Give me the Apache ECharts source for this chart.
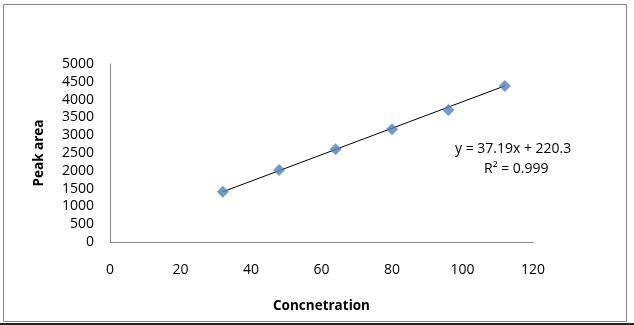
<!DOCTYPE html>
<html><head><meta charset="utf-8">
<script src="https://cdn.jsdelivr.net/npm/echarts@6/dist/echarts.min.js"></script>
<style>html,body{margin:0;padding:0;background:#fff}#c{width:634px;height:325px}</style>
</head><body><div id="c"></div>
<script>
var concentration = [32, 48, 64, 80, 96, 112];
var peakArea = [1415, 2020, 2605, 3170, 3710, 4385];
var trendX = [32, 112];
var trendY = [1410, 4385];
var equationText = 'y = 37.19x + 220.3';
var r2Text = 'R² = 0.999';

var chart = echarts.init(document.getElementById('c'));
var F = '"Open Sans", Lato, sans-serif';
chart.setOption({
  animation: false,
  grid: { left: 110, right: 101, top: 64, bottom: 83 },
  xAxis: {
    type: 'value', min: 0, max: 120, interval: 20,
    name: 'Concnetration', nameLocation: 'middle', nameGap: 57,
    nameTextStyle: { fontFamily: F, fontSize: 13.5, fontWeight: 'bold', color: '#000' },
    axisLine: { show: true, lineStyle: { color: '#868686', width: 1 } },
    axisTick: { show: false },
    splitLine: { show: false },
    axisLabel: { fontFamily: F, fontSize: 14, color: '#000', margin: 21 }
  },
  yAxis: {
    type: 'value', min: 0, max: 5000, interval: 500,
    name: 'Peak area', nameLocation: 'middle', nameGap: 64,
    nameTextStyle: { fontFamily: F, fontSize: 13.5, fontWeight: 'bold', color: '#000' },
    axisLine: { show: true, lineStyle: { color: '#868686', width: 1 } },
    axisTick: { show: false },
    splitLine: { show: false },
    axisLabel: { fontFamily: F, fontSize: 14, color: '#000', margin: 16,
      formatter: function (v) { return String(v); } }
  },
  series: [
    {
      type: 'line', data: trendX.map(function (x, i) { return [x, trendY[i]]; }),
      symbol: 'none', lineStyle: { color: '#000', width: 1 }, z: 2
    },
    {
      type: 'scatter', data: concentration.map(function (x, i) { return [x, peakArea[i]]; }),
      symbol: 'diamond', symbolSize: 12, itemStyle: { color: '#4F81BD' }, z: 3
    }
  ],
  graphic: [
    { type: 'rect', shape: { x: 3.5, y: 4.5, width: 623, height: 317 },
      style: { fill: 'none', stroke: '#868686', lineWidth: 1 }, z: -1 },
    { type: 'rect', shape: { x: 0, y: 323, width: 634, height: 2 },
      style: { fill: '#222' } },
    { type: 'text', left: 455, top: 142,
      style: { text: equationText, font: '14px ' + F, fill: '#000' } },
    { type: 'text', left: 484, top: 162,
      style: { text: r2Text, font: '14px ' + F, fill: '#000' } }
  ]
});
</script></body></html>
